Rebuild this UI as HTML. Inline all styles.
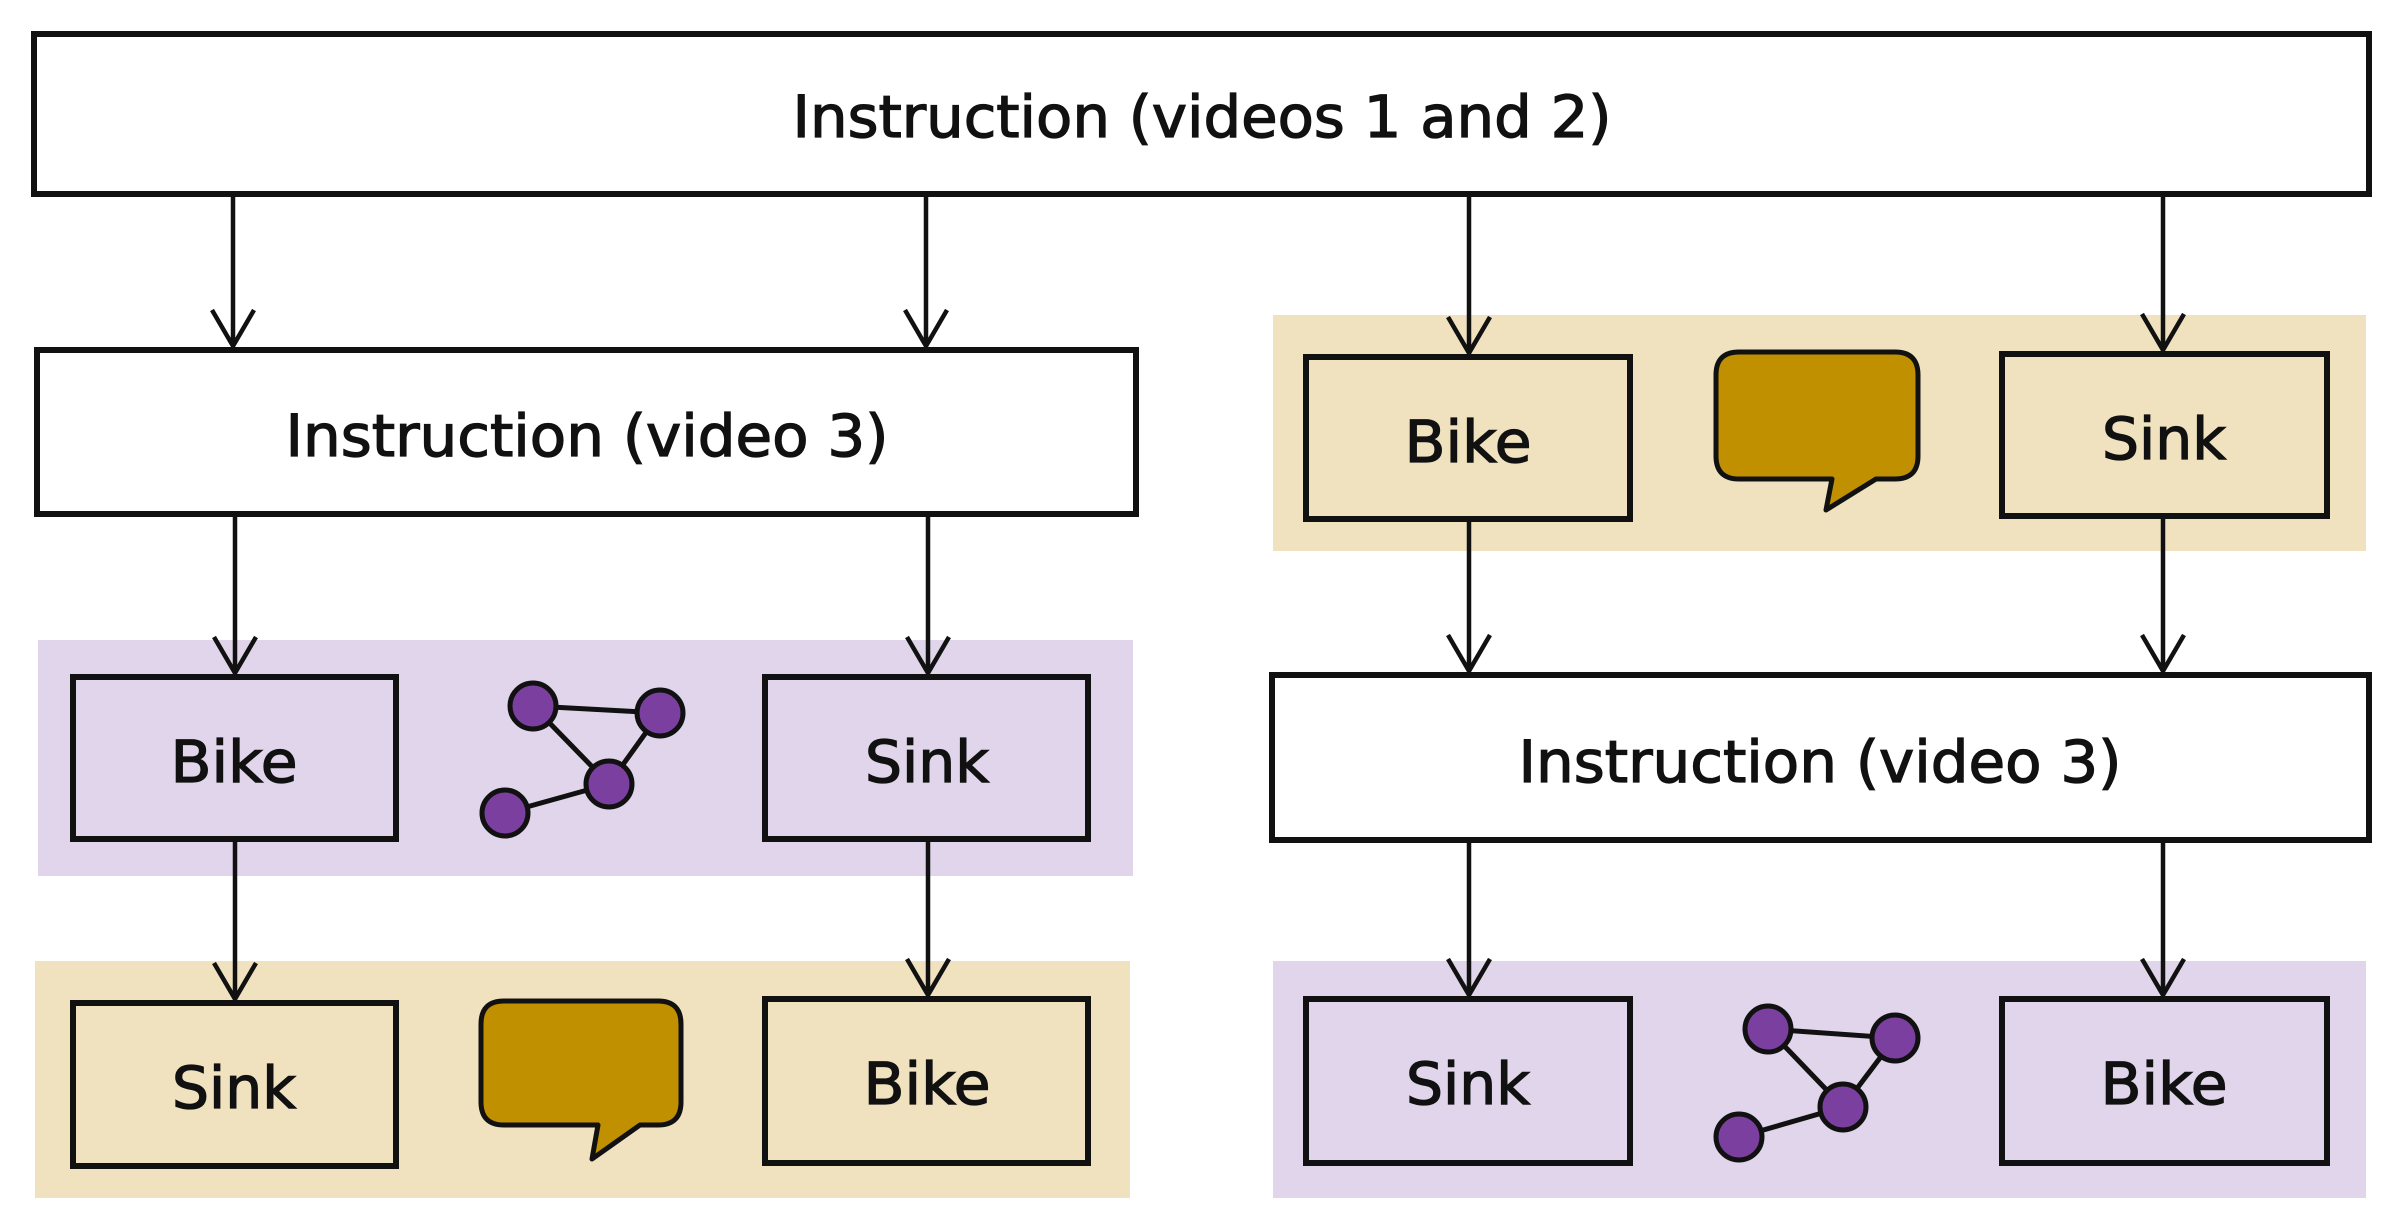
<!DOCTYPE html>
<html><head><meta charset="utf-8"><style>html,body{margin:0;padding:0;background:#fff}svg{display:block}</style></head>
<body>
<svg width="2400" height="1230" viewBox="0 0 2400 1230" xmlns="http://www.w3.org/2000/svg" font-family="'DejaVu Sans','Liberation Sans',sans-serif">
<g fill="#e0d5ea">
<rect x="38" y="640" width="1095" height="236"/>
<rect x="1273" y="961" width="1093" height="237"/>
</g>
<g fill="#f0e2bf">
<rect x="35" y="961" width="1095" height="237"/>
<rect x="1273" y="315" width="1093" height="236"/>
</g>
<g stroke="#111" stroke-width="4.5" fill="none">
<path d="M233 194V346M212 310L233 346L254 310"/>
<path d="M926 194V346M905 310L926 346L947 310"/>
<path d="M1469 194V353M1448 317L1469 353L1490 317"/>
<path d="M2163 194V350M2142 314L2163 350L2184 314"/>
<path d="M235 514V673M214 637L235 673L256 637"/>
<path d="M928 514V673M907 637L928 673L949 637"/>
<path d="M1469 519V671M1448 635L1469 671L1490 635"/>
<path d="M2163 516V671M2142 635L2163 671L2184 635"/>
<path d="M235 839V999M214 963L235 999L256 963"/>
<path d="M928 839V995M907 959L928 995L949 959"/>
<path d="M1469 840V995M1448 959L1469 995L1490 959"/>
<path d="M2163 840V995M2142 959L2163 995L2184 959"/>
</g>
<g stroke="#111" stroke-width="6">
<rect x="34" y="34" width="2335" height="160" fill="#fff"/>
<rect x="37" y="350" width="1099" height="164" fill="#fff"/>
<rect x="1272" y="675" width="1097" height="165" fill="#fff"/>
<rect x="73" y="677" width="323" height="162" fill="#e0d5ea"/>
<rect x="765" y="677" width="323" height="162" fill="#e0d5ea"/>
<rect x="1306" y="999" width="324" height="164" fill="#e0d5ea"/>
<rect x="2002" y="999" width="325" height="164" fill="#e0d5ea"/>
<rect x="73" y="1003" width="323" height="163" fill="#f0e2bf"/>
<rect x="765" y="999" width="323" height="164" fill="#f0e2bf"/>
<rect x="1306" y="357" width="324" height="162" fill="#f0e2bf"/>
<rect x="2002" y="354" width="325" height="162" fill="#f0e2bf"/>
</g>
<g stroke="#111" stroke-width="5" fill="#c09000" stroke-linejoin="round">
<path d="M504 1001H658Q681 1001 681 1024V1102Q681 1125 658 1125H640L592 1159L598 1125H504Q481 1125 481 1102V1024Q481 1001 504 1001Z"/>
<path d="M1739 352H1895Q1918 352 1918 375V456Q1918 479 1895 479H1876L1826 510L1832 479H1739Q1716 479 1716 456V375Q1716 352 1739 352Z"/>
</g>
<g stroke="#111" stroke-width="5">
<path d="M533 706L660 713L609 784L533 706M609 784L505 813" fill="none"/>
<circle cx="533" cy="706" r="23" fill="#7b3fa0"/><circle cx="660" cy="713" r="23" fill="#7b3fa0"/>
<circle cx="609" cy="784" r="23" fill="#7b3fa0"/><circle cx="505" cy="813" r="23" fill="#7b3fa0"/>
<path d="M1768 1029L1895 1038L1843 1107L1768 1029M1843 1107L1739 1137" fill="none"/>
<circle cx="1768" cy="1029" r="23" fill="#7b3fa0"/><circle cx="1895" cy="1038" r="23" fill="#7b3fa0"/>
<circle cx="1843" cy="1107" r="23" fill="#7b3fa0"/><circle cx="1739" cy="1137" r="23" fill="#7b3fa0"/>
</g>
<g fill="#111" stroke="#111" stroke-width="1.3" font-size="58" text-anchor="middle">
<text x="1202" y="137" textLength="819" lengthAdjust="spacingAndGlyphs">Instruction (videos 1 and 2)</text>
<text x="587" y="456" textLength="603" lengthAdjust="spacingAndGlyphs">Instruction (video 3)</text>
<text x="1820" y="782" textLength="603" lengthAdjust="spacingAndGlyphs">Instruction (video 3)</text>
<text x="234" y="782" textLength="127" lengthAdjust="spacingAndGlyphs">Bike</text>
<text x="927" y="782" textLength="124" lengthAdjust="spacingAndGlyphs">Sink</text>
<text x="234" y="1108" textLength="124" lengthAdjust="spacingAndGlyphs">Sink</text>
<text x="927" y="1104" textLength="127" lengthAdjust="spacingAndGlyphs">Bike</text>
<text x="1468" y="462" textLength="127" lengthAdjust="spacingAndGlyphs">Bike</text>
<text x="2164" y="459" textLength="124" lengthAdjust="spacingAndGlyphs">Sink</text>
<text x="1468" y="1104" textLength="124" lengthAdjust="spacingAndGlyphs">Sink</text>
<text x="2164" y="1104" textLength="127" lengthAdjust="spacingAndGlyphs">Bike</text>
</g>
</svg>
</body></html>
